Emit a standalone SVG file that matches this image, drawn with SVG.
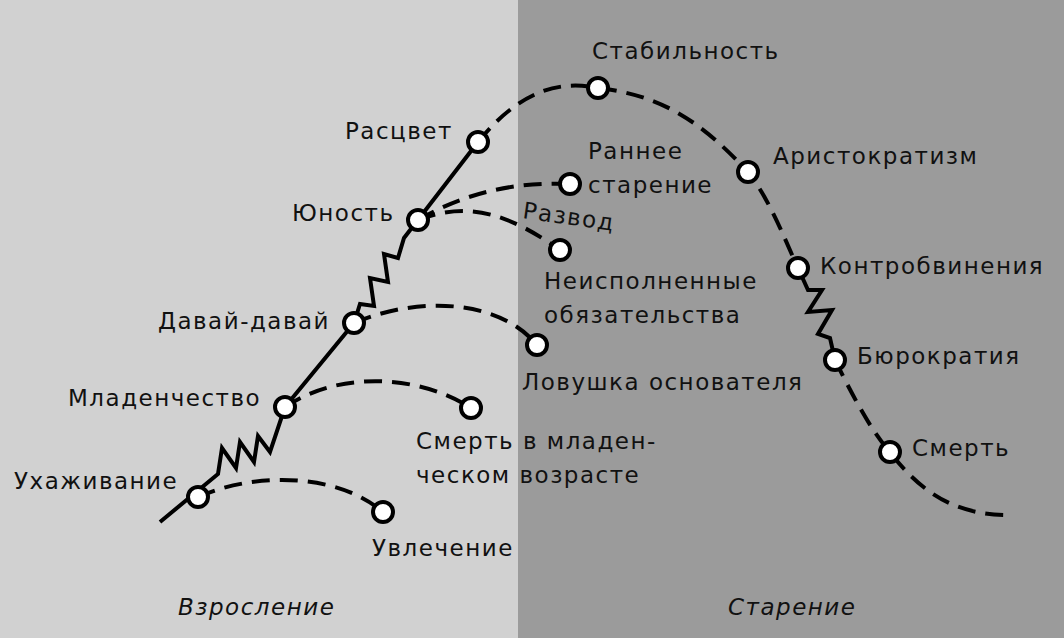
<svg xmlns="http://www.w3.org/2000/svg" width="1064" height="638" viewBox="0 0 1064 638">
<style>
.t{font-family:"DejaVu Sans","Liberation Sans",sans-serif;font-size:23px;letter-spacing:1.5px;fill:#111}
.i{font-family:"DejaVu Sans","Liberation Sans",sans-serif;font-size:23px;letter-spacing:1.5px;font-style:italic;fill:#111}
.s{fill:none;stroke:#000;stroke-width:4;stroke-linejoin:miter}
.d{fill:none;stroke:#000;stroke-width:4;stroke-dasharray:18 10}
.n{fill:#fff;stroke:#000;stroke-width:4}
</style>
<rect x="0" y="0" width="518" height="638" fill="#d1d1d1"/>
<rect x="518" y="0" width="546" height="638" fill="#9b9b9b"/>
<g id="connectors">
<path class="s" d="M160,522 L218,474 L222,448 L236,468 L240,442 L254,462 L258,436 L270,452 L285,407 L354,323 L360,304 L374,306 L370,278 L388,282 L384,254 L398,258 L404,238 L478,142"/>
<path class="d" d="M478,142 C520,90 560,80 598,88 C660,95 700,120 748,172 C770,200 785,240 798,268"/>
<path class="s" d="M798,268 L808,290 L822,290 L808,312 L832,310 L818,334 L830,338 L835,360"/>
<path class="d" d="M835,360 C850,390 870,430 890,452 C930,505 970,515 1010,515"/>
<path class="d" d="M198,497 C260,470 340,475 383,512"/>
<path class="d" d="M285,407 C340,370 420,375 471,408"/>
<path class="d" d="M354,323 C420,295 500,300 537,345"/>
<path class="d" d="M418,220 C470,200 510,215 560,250"/>
<path class="d" d="M418,220 C470,190 520,182 570,184"/>
</g>
<g id="nodes">
<g id="n1"><circle class="n" cx="198" cy="497" r="10"/><text class="t" x="14" y="489">Ухаживание</text></g>
<g id="n2"><circle class="n" cx="285" cy="407" r="10"/><text class="t" x="68" y="406">Младенчество</text></g>
<g id="n3"><circle class="n" cx="354" cy="323" r="10"/><text class="t" x="158" y="329">Давай-давай</text></g>
<g id="n4"><circle class="n" cx="418" cy="220" r="10"/><text class="t" x="292" y="221">Юность</text></g>
<g id="n5"><circle class="n" cx="478" cy="142" r="10"/><text class="t" x="345" y="139">Расцвет</text></g>
<g id="n6"><circle class="n" cx="598" cy="88" r="10"/><text class="t" x="592" y="59">Стабильность</text></g>
<g id="n7"><circle class="n" cx="748" cy="172" r="10"/><text class="t" x="773" y="164">Аристократизм</text></g>
<g id="n8"><circle class="n" cx="798" cy="268" r="10"/><text class="t" x="820" y="274">Контробвинения</text></g>
<g id="n9"><circle class="n" cx="835" cy="360" r="10"/><text class="t" x="857" y="364">Бюрократия</text></g>
<g id="n10"><circle class="n" cx="890" cy="452" r="10"/><text class="t" x="912" y="456">Смерть</text></g>
<g id="n11"><circle class="n" cx="570" cy="184" r="10"/><text class="t" x="588" y="159">Раннее</text><text class="t" x="588" y="193">старение</text></g>
<g id="n12"><circle class="n" cx="560" cy="250" r="10"/><text class="t" x="522" y="218" transform="rotate(8 522 218)">Развод</text><text class="t" x="544" y="289">Неисполненные</text><text class="t" x="544" y="323">обязательства</text></g>
<g id="n13"><circle class="n" cx="537" cy="345" r="10"/><text class="t" x="522" y="390">Ловушка основателя</text></g>
<g id="n14"><circle class="n" cx="471" cy="408" r="10"/><text class="t" x="416" y="449">Смерть в младен-</text><text class="t" x="416" y="483">ческом возрасте</text></g>
<g id="n15"><circle class="n" cx="383" cy="512" r="10"/><text class="t" x="372" y="556">Увлечение</text></g>
</g>
<text class="i" x="178" y="615">Взросление</text>
<text class="i" x="728" y="615">Старение</text>
</svg>
